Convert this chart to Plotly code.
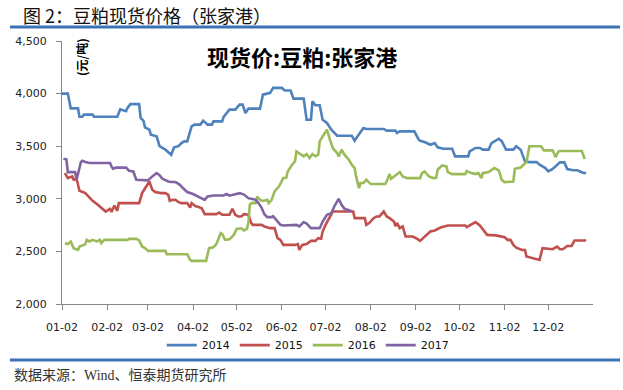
import numpy as np
import pandas as pd
import plotly.graph_objects as go

# ---- data (day of year, common reference year) ----
days_2014 = [2, 6, 8, 13, 14, 16, 17, 23, 24, 40, 42, 44, 46, 47, 49, 55, 56, 58, 59, 62, 63, 67, 69, 73, 77, 79, 82, 84, 86, 88,
             91, 93, 97, 99, 102, 105, 106, 112, 113, 117, 121, 124, 126, 128, 130, 138, 140, 145, 147, 153, 155, 159, 161, 168,
             170, 173, 174, 176, 179, 181, 184, 187, 191, 201, 203, 205, 209, 211, 223, 225, 231, 232, 234, 244, 247, 248, 251,
             255, 258, 260, 264, 270, 272, 281, 282, 286, 289, 291, 295, 297, 302, 304, 307, 312, 314, 317, 320, 323, 328, 330,
             334, 336, 339, 344, 347, 349, 353, 356, 360, 362]
values_2014 = [4000, 4000, 3860, 3860, 3780, 3780, 3800, 3800, 3780, 3780, 3850, 3840, 3832, 3864, 3900, 3900, 3768, 3740, 3679,
               3657, 3610, 3594, 3500, 3467, 3419, 3489, 3500, 3530, 3546, 3546, 3689, 3705, 3705, 3743, 3705, 3705, 3736, 3736,
               3778, 3848, 3848, 3895, 3895, 3816, 3857, 3857, 3990, 4007, 4054, 4054, 4029, 4029, 3952, 3952, 3752, 3752, 3927,
               3889, 3889, 3752, 3721, 3657, 3600, 3600, 3552, 3594, 3673, 3664, 3664, 3648, 3648, 3626, 3641, 3641, 3562, 3552,
               3540, 3514, 3530, 3489, 3476, 3476, 3403, 3403, 3450, 3483, 3483, 3467, 3467, 3530, 3571, 3548, 3467, 3467, 3500,
               3467, 3355, 3349, 3349, 3324, 3292, 3260, 3284, 3346, 3346, 3283, 3271, 3271, 3245, 3245]

days_2015 = [4, 6, 9, 10, 12, 13, 14, 18, 21, 23, 26, 29, 32, 35, 36, 38, 40, 41, 55, 57, 59, 62, 64, 66, 70, 73, 75, 76, 78, 80,
             82, 84, 88, 90, 91, 94, 95, 98, 100, 108, 110, 112, 117, 119, 121, 123, 125, 127, 130, 132, 133, 139, 141, 145, 148,
             150, 152, 154, 162, 164, 165, 167, 170, 173, 176, 178, 180, 181, 183, 186, 187, 188, 202, 203, 210, 211, 213, 216,
             218, 220, 223, 225, 227, 230, 231, 232, 234, 236, 238, 243, 246, 248, 250, 255, 258, 262, 267, 279, 280, 283, 286,
             289, 291, 294, 300, 303, 306, 308, 310, 312, 314, 318, 320, 321, 325, 330, 332, 339, 342, 344, 346, 349, 352, 354,
             362]
values_2015 = [3245, 3197, 3213, 3181, 3190, 3133, 3076, 3054, 3006, 2981, 2950, 2911, 2879, 2905, 2875, 2936, 2886, 2959, 2959,
               3054, 3095, 3165, 3086, 3064, 3054, 3054, 3038, 2981, 2990, 2990, 2968, 2959, 2959, 2917, 2959, 2927, 2927, 2910,
               2854, 2854, 2870, 2848, 2848, 2905, 2848, 2832, 2832, 2854, 2848, 2769, 2752, 2752, 2737, 2721, 2721, 2626, 2610,
               2562, 2562, 2570, 2514, 2562, 2570, 2600, 2600, 2626, 2620, 2689, 2752, 2832, 2864, 2879, 2879, 2816, 2816, 2752,
               2770, 2816, 2832, 2832, 2879, 2832, 2816, 2784, 2740, 2770, 2721, 2737, 2641, 2641, 2619, 2600, 2626, 2689, 2699,
               2727, 2746, 2746, 2730, 2752, 2778, 2746, 2714, 2657, 2652, 2641, 2635, 2610, 2610, 2562, 2536, 2514, 2514, 2451,
               2435, 2419, 2531, 2521, 2546, 2521, 2521, 2552, 2552, 2603, 2603]

days_2016 = [4, 6, 8, 10, 13, 14, 18, 19, 21, 23, 26, 28, 29, 31, 47, 48, 53, 55, 57, 59, 61, 73, 74, 85, 88, 90, 91, 101, 103,
             106, 108, 111, 112, 114, 117, 120, 122, 125, 127, 129, 130, 131, 132, 135, 136, 138, 140, 143, 144, 146, 148, 151,
             153, 154, 156, 157, 160, 162, 163, 166, 168, 170, 172, 174, 176, 178, 179, 181, 184, 186, 188, 191, 192, 194, 196,
             199, 201, 203, 204, 206, 207, 209, 211, 214, 224, 225, 227, 228, 232, 234, 236, 239, 248, 249, 251, 254, 257, 259,
             260, 263, 266, 267, 270, 279, 280, 283, 286, 288, 290, 291, 295, 299, 302, 304, 306, 310, 312, 313, 317, 319, 321,
             323, 331, 333, 339, 341, 343, 344, 359, 361]
values_2016 = [2578, 2570, 2593, 2531, 2514, 2546, 2567, 2610, 2595, 2610, 2595, 2610, 2578, 2610, 2610, 2619, 2619, 2605, 2546,
               2531, 2505, 2505, 2473, 2473, 2473, 2419, 2410, 2410, 2531, 2540, 2569, 2673, 2665, 2610, 2615, 2657, 2714, 2720,
               2700, 2714, 2769, 2943, 2959, 2959, 3022, 2990, 2980, 2990, 2959, 2990, 3070, 3117, 3165, 3197, 3200, 3260, 3324,
               3355, 3450, 3419, 3403, 3425, 3388, 3425, 3405, 3419, 3546, 3593, 3657, 3562, 3483, 3435, 3403, 3467, 3419, 3371,
               3324, 3292, 3213, 3102, 3150, 3150, 3181, 3140, 3140, 3165, 3235, 3190, 3229, 3254, 3213, 3197, 3197, 3240, 3260,
               3213, 3197, 3200, 3276, 3317, 3308, 3254, 3235, 3235, 3265, 3244, 3235, 3244, 3197, 3244, 3254, 3292, 3270, 3181,
               3159, 3162, 3165, 3286, 3298, 3324, 3349, 3500, 3500, 3460, 3460, 3397, 3450, 3455, 3455, 3378]

days_2017 = [3, 5, 6, 11, 12, 13, 15, 16, 18, 21, 35, 36, 37, 39, 46, 48, 51, 53, 61, 64, 67, 69, 71, 75, 77, 80, 83, 85, 88, 92,
             97, 100, 102, 106, 113, 115, 117, 120, 124, 127, 130, 135, 137, 139, 141, 143, 146, 147, 150, 152, 154, 162, 163,
             165, 168, 170, 173, 179, 181, 184, 187, 189, 192, 194, 196, 200, 201]
values_2017 = [3381, 3375, 3254, 3254, 3181, 3229, 3350, 3362, 3350, 3340, 3340, 3308, 3286, 3296, 3296, 3267, 3260, 3181, 3175,
               3213, 3245, 3225, 3190, 3165, 3159, 3159, 3133, 3102, 3064, 3045, 3013, 2990, 3022, 3032, 3032, 3045, 3030, 3038,
               3054, 3040, 3006, 2990, 2959, 2917, 2854, 2826, 2826, 2835, 2784, 2752, 2746, 2746, 2752, 2737, 2778, 2765, 2721,
               2721, 2784, 2848, 2864, 2927, 3000, 2943, 2905, 2886, 2880]

series_names = ["2014", "2015", "2016", "2017"]
series_colors = ["#4F81BD", "#C0504D", "#9BBB59", "#8064A2"]
tick_labels = ["01-02", "02-02", "03-02", "04-02", "05-02", "06-02",
               "07-02", "08-02", "09-02", "10-02", "11-02", "12-02"]
y_ticks = [2000, 2500, 3000, 3500, 4000, 4500]

base = pd.Timestamp("2017-01-01")


def to_dates(days):
    return base + pd.to_timedelta(np.array(days) - 1, unit="D")


fig = go.Figure()
all_days = [days_2014, days_2015, days_2016, days_2017]
all_vals = [values_2014, values_2015, values_2016, values_2017]
for name, col, d, v in zip(series_names, series_colors, all_days, all_vals):
    fig.add_trace(go.Scatter(x=to_dates(d), y=v, mode="lines", name=name,
                             line=dict(color=col, width=2.6)))

tickvals = [pd.Timestamp(f"2017-{lab[:2]}-{lab[3:]}") for lab in tick_labels]

axis_col = "#868686"
fig.update_layout(
    width=623, height=390,
    margin=dict(l=62, r=30, t=41, b=86, autoexpand=False),
    paper_bgcolor="white", plot_bgcolor="white",
    font=dict(family="DejaVu Sans", size=11, color="#222"),
    showlegend=True,
    legend=dict(orientation="h", xref="container", yref="container",
                x=0.494, xanchor="center", y=0.115, yanchor="middle",
                font=dict(family="DejaVu Sans", size=11, color="#111"),
                itemwidth=30, tracegroupgap=0, bgcolor="rgba(0,0,0,0)"),
    xaxis=dict(type="date",
               range=[pd.Timestamp("2017-01-02"), pd.Timestamp("2018-01-01 16:48")],
               tickvals=tickvals, ticktext=tick_labels,
               showgrid=False, zeroline=False,
               showline=True, linecolor=axis_col, linewidth=1,
               ticks="outside", ticklen=5, tickcolor=axis_col,
               ticklabelstandoff=8,
               tickfont=dict(family="DejaVu Sans", size=11, color="#222")),
    yaxis=dict(range=[2000, 4500], tickvals=y_ticks, tickformat=",",
               showgrid=False, zeroline=False,
               showline=True, linecolor=axis_col, linewidth=1,
               ticks="outside", ticklen=5, tickcolor=axis_col,
               ticklabelstandoff=7,
               tickfont=dict(family="DejaVu Sans", size=11, color="#222")),
)


def px_x(px):
    return (px - 62) / 531.0


def px_y(py):
    return (304 - py) / 263.0


blue = "#3A73B5"
fig.add_shape(type="line", xref="paper", yref="paper",
              x0=px_x(10), x1=px_x(620), y0=px_y(27), y1=px_y(27),
              line=dict(color=blue, width=3))
fig.add_shape(type="line", xref="paper", yref="paper",
              x0=px_x(10), x1=px_x(620), y0=px_y(360), y1=px_y(360),
              line=dict(color=blue, width=3))

fig.add_annotation(xref="paper", yref="paper", x=px_x(21), y=px_y(15),
                   xanchor="left", yanchor="middle", showarrow=False,
                   text="图 2：豆粕现货价格（张家港）",
                   font=dict(family="Noto Sans CJK SC", size=18, color="#111"))
fig.add_annotation(xref="paper", yref="paper", x=px_x(12), y=px_y(375),
                   xanchor="left", yanchor="middle", showarrow=False,
                   text="数据来源：Wind、恒泰期货研究所",
                   font=dict(family="Liberation Serif, Noto Sans CJK SC", size=14, color="#333"))
fig.add_annotation(xref="paper", yref="paper", x=px_x(302), y=px_y(56),
                   xanchor="center", yanchor="middle", showarrow=False,
                   text="<b>现货价:豆粕:张家港</b>",
                   font=dict(family="Noto Sans CJK SC", size=22, color="#000"))
fig.add_annotation(xref="paper", yref="paper", x=px_x(82), y=px_y(57),
                   xanchor="center", yanchor="middle", showarrow=False,
                   textangle=-90, text="<b>(元/吨)</b>",
                   font=dict(family="Noto Sans CJK SC", size=12, color="#000"))

fig.write_html("out.html", config={"displayModeBar": False},
               post_script="document.body.style.margin='0';document.body.style.padding='0';")
